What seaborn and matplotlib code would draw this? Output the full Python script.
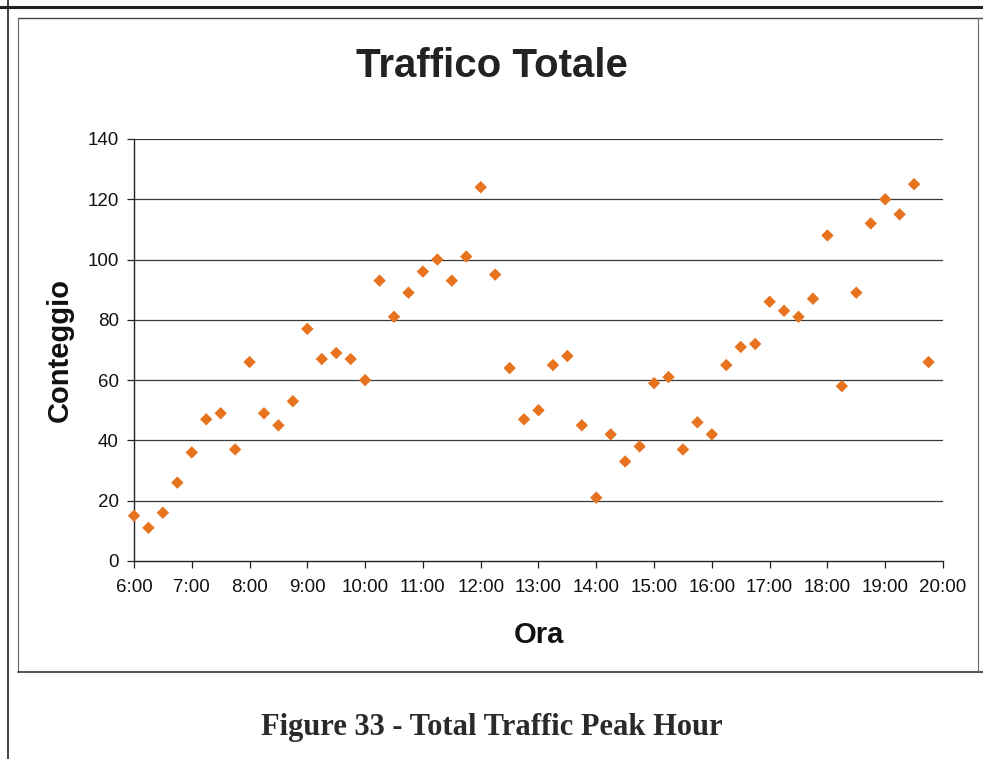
import matplotlib
matplotlib.use("Agg")
import matplotlib.pyplot as plt
from matplotlib.lines import Line2D
import seaborn as sns
import pandas as pd

# Quarter-hour counts, 6:00 - 19:45
times = ["6:00", "6:15", "6:30", "6:45", "7:00", "7:15", "7:30", "7:45",
         "8:00", "8:15", "8:30", "8:45", "9:00", "9:15", "9:30", "9:45",
         "10:00", "10:15", "10:30", "10:45", "11:00", "11:15", "11:30", "11:45",
         "12:00", "12:15", "12:30", "12:45", "13:00", "13:15", "13:30", "13:45",
         "14:00", "14:15", "14:30", "14:45", "15:00", "15:15", "15:30", "15:45",
         "16:00", "16:15", "16:30", "16:45", "17:00", "17:15", "17:30", "17:45",
         "18:00", "18:15", "18:30", "18:45", "19:00", "19:15", "19:30", "19:45"]
counts = [15, 11, 16, 26, 36, 47, 49, 37,
          66, 49, 45, 53, 77, 67, 69, 67,
          60, 93, 81, 89, 96, 100, 93, 101,
          124, 95, 64, 47, 50, 65, 68, 45,
          21, 42, 33, 38, 59, 61, 37, 46,
          42, 65, 71, 72, 86, 83, 81, 87,
          108, 58, 89, 112, 120, 115, 125, 66]
hour_ticks = list(range(6, 21))
hour_labels = [f"{h}:00" for h in hour_ticks]
y_ticks = list(range(0, 141, 20))


def to_hours(t):
    h, m = t.split(":")
    return int(h) + int(m) / 60


df = pd.DataFrame({"Ora": [to_hours(t) for t in times], "Conteggio": counts})

sns.set_theme(style="white")
plt.rcParams["font.family"] = ["Liberation Sans", "DejaVu Sans"]

fig = plt.figure(figsize=(9.83, 7.59), dpi=100)
ax = fig.add_axes([0.1363, 0.2609, 0.8230, 0.5560])

sns.scatterplot(data=df, x="Ora", y="Conteggio", ax=ax, marker="D",
                s=40, color="#E8731E", edgecolor="none", zorder=3,
                clip_on=False)

ax.set_xlim(6, 20)
ax.set_ylim(0, 140)
ax.set_xticks(hour_ticks)
ax.set_xticklabels(hour_labels, fontsize=13.5)
ax.set_yticks(y_ticks)
ax.set_yticklabels([str(v) for v in y_ticks], fontsize=13.5)
for v in y_ticks[1:]:
    ax.axhline(v, color="#3a3a3a", lw=0.9, zorder=1)

for side in ("top", "right"):
    ax.spines[side].set_visible(False)
for side in ("left", "bottom"):
    ax.spines[side].set_color("#222222")
    ax.spines[side].set_linewidth(1.0)
ax.tick_params(axis="both", which="major", direction="out", length=5,
               width=0.9, color="#222222", bottom=True, left=True,
               labelcolor="#111111")
ax.tick_params(axis="x", pad=8)
ax.tick_params(axis="y", pad=6)

ax.set_xlabel("Ora", fontsize=21, fontweight="bold", labelpad=18, color="#111111")
ax.set_ylabel("Conteggio", fontsize=21, fontweight="bold", labelpad=10, color="#111111")
fig.text(0.5, 1 - 66 / 759, "Traffico Totale", ha="center", va="center",
         fontsize=29, fontweight="bold", color="#222222")

# Chart box and page rules
W, H = 983, 759
def line(x0, y0, x1, y1, lw=1.0, c="#333333"):
    fig.add_artist(Line2D([x0 / W, x1 / W], [1 - y0 / H, 1 - y1 / H],
                          transform=fig.transFigure, color=c, lw=lw))

line(0, 7, W, 7, lw=2.2, c="#222222")
line(8, 0, 8, H, lw=1.2, c="#222222")
line(18, 18, W, 18, lw=1.0, c="#444444")
line(18, 18, 18, 672, lw=0.8, c="#666666")
line(18, 672, W, 672, lw=1.2, c="#333333")
line(978, 18, 978, 672, lw=0.8, c="#666666")

fig.text(0.5, 1 - 727 / H, "Figure 33 - Total Traffic Peak Hour", ha="center",
         va="center", fontsize=22, fontweight="bold", color="#2a2a2a",
         family=["Liberation Serif", "DejaVu Serif"])

fig.savefig("out.png", dpi=100)
